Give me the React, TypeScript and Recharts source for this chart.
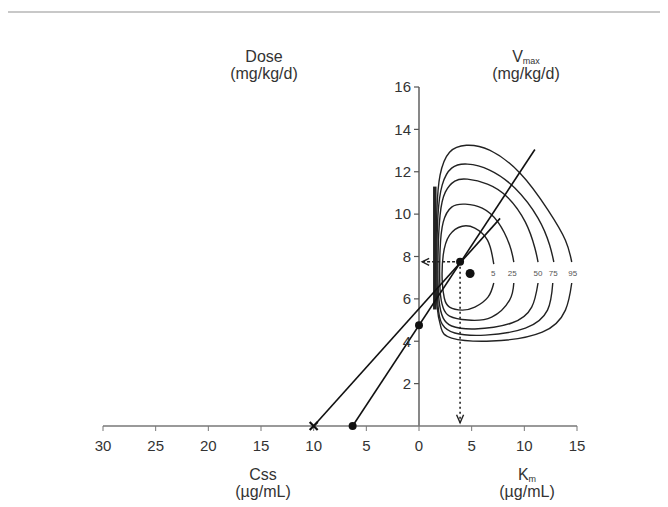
import React from "react";
import { ComposedChart, Line, XAxis, YAxis, ReferenceLine, ReferenceDot } from "recharts";

// x axis: left side is Css (drawn as negative), right side is Km
const xTicks = [-30, -25, -20, -15, -10, -5, 0, 5, 10, 15];
const yTicks = [2, 4, 6, 8, 10, 12, 14, 16];

// confidence contours in (Km, Vmax) space
const contour95 = [
  { k: 14.5, v: 6.75 }, { k: 13.9, v: 5.47 }, { k: 11.7, v: 4.43 }, { k: 6.9, v: 4.01 },
  { k: 3.1, v: 4.15 }, { k: 2.1, v: 4.62 }, { k: 1.7, v: 5.71 }, { k: 1.6, v: 7.83 },
  { k: 1.7, v: 10.2 }, { k: 2.0, v: 11.84 }, { k: 2.9, v: 12.92 }, { k: 4.5, v: 13.25 },
  { k: 6.7, v: 13.02 }, { k: 9.6, v: 11.93 }, { k: 12.25, v: 10.19 }, { k: 13.9, v: 8.77 },
  { k: 14.5, v: 7.74 },
];
const contour75 = [
  { k: 12.7, v: 6.75 }, { k: 12.2, v: 5.47 }, { k: 10.1, v: 4.62 }, { k: 6.3, v: 4.29 },
  { k: 3.4, v: 4.39 }, { k: 2.2, v: 4.81 }, { k: 1.8, v: 5.71 }, { k: 1.7, v: 7.83 },
  { k: 1.8, v: 9.95 }, { k: 2.2, v: 11.37 }, { k: 3.1, v: 12.17 }, { k: 4.6, v: 12.36 },
  { k: 6.7, v: 12.08 }, { k: 9.1, v: 11.23 }, { k: 11.3, v: 9.81 }, { k: 12.4, v: 8.54 },
  { k: 12.8, v: 7.74 },
];
const contour50 = [
  { k: 11.3, v: 6.75 }, { k: 10.7, v: 5.61 }, { k: 8.8, v: 4.86 }, { k: 5.3, v: 4.58 },
  { k: 3.1, v: 4.72 }, { k: 2.3, v: 5.09 }, { k: 1.9, v: 5.94 }, { k: 1.8, v: 7.83 },
  { k: 2.0, v: 9.95 }, { k: 2.5, v: 11.04 }, { k: 3.4, v: 11.56 }, { k: 4.6, v: 11.65 },
  { k: 6.5, v: 11.42 }, { k: 8.4, v: 10.8 }, { k: 10.1, v: 9.62 }, { k: 11.0, v: 8.4 },
  { k: 11.3, v: 7.74 },
];
const contour25 = [
  { k: 9.0, v: 6.75 }, { k: 8.6, v: 5.94 }, { k: 6.9, v: 5.14 }, { k: 4.65, v: 5.0 },
  { k: 2.9, v: 5.19 }, { k: 2.3, v: 5.57 }, { k: 2.0, v: 6.42 }, { k: 2.0, v: 8.3 },
  { k: 2.3, v: 9.62 }, { k: 3.1, v: 10.33 }, { k: 4.4, v: 10.47 }, { k: 6.0, v: 10.28 },
  { k: 7.5, v: 9.62 }, { k: 8.6, v: 8.54 }, { k: 9.0, v: 7.74 },
];
const contour5 = [
  { k: 7.1, v: 6.75 }, { k: 6.55, v: 6.08 }, { k: 5.3, v: 5.61 }, { k: 4.1, v: 5.47 },
  { k: 2.9, v: 5.61 }, { k: 2.4, v: 6.04 }, { k: 2.2, v: 6.89 }, { k: 2.3, v: 8.07 },
  { k: 2.9, v: 9.01 }, { k: 4.1, v: 9.43 }, { k: 5.3, v: 9.34 }, { k: 6.5, v: 8.77 },
  { k: 7.0, v: 7.92 }, { k: 7.1, v: 7.64 },
];
const contours = [contour95, contour75, contour50, contour25, contour5];
const contourLabels = ["95", "75", "50", "25", "5"];
const contourLabelK = [14.6, 12.75, 11.3, 8.85, 7.05];
const contourLabelV = 7.2;

// direct linear plot lines
const lineA = [{ k: -10, v: 0 }, { k: 7.7, v: 9.8 }];
const lineB = [{ k: -6.3, v: 0 }, { k: 11, v: 13.05 }];
const doseDot = { k: 0, v: 4.75 };
const intersect = { k: 3.9, v: 7.75 };
const estimate = { k: 4.85, v: 7.2 };
const dropLine = [{ k: 3.9, v: 7.75 }, { k: 3.9, v: 0.15 }];
const sideLine = [{ k: 3.9, v: 7.75 }, { k: 0.3, v: 7.75 }];

const font = "'Liberation Sans', Arial, sans-serif";
const ink = "#222";

const titleStyle: React.CSSProperties = {
  position: "absolute",
  transform: "translateX(-50%)",
  textAlign: "center",
  fontFamily: font,
  fontSize: 16,
  lineHeight: "17px",
  color: "#333",
  whiteSpace: "nowrap",
};

const subStyle: React.CSSProperties = { fontSize: 9, lineHeight: 0, verticalAlign: "-2px" };

export default function App() {
  return (
    <div style={{ position: "relative", width: 660, height: 499 }}>
      <div style={{ position: "absolute", left: -3, top: 3, width: 663, height: 0, borderTop: "2px solid #c8c8c8" }} />
      <ComposedChart width={660} height={490} margin={{ top: 79, right: 91, left: 95, bottom: 42 }}>
        <XAxis
          type="number"
          dataKey="k"
          domain={[-30, 15]}
          ticks={xTicks}
          allowDataOverflow
          height={30}
          tickFormatter={(v: number) => String(Math.abs(v))}
          axisLine={{ stroke: "#777", strokeWidth: 1.6 }}
          tickLine={{ stroke: "#777" }}
          tickSize={5}
          tickMargin={9}
          tick={{ fill: "#333", fontSize: 15, fontFamily: font }}
        />
        <YAxis type="number" domain={[0, 16]} allowDataOverflow hide />

        <ReferenceLine segment={[{ x: 0, y: 0 }, { x: 0, y: 16 }]} stroke="#555" strokeWidth={1.4} />
        {yTicks.map((t) => (
          <ReferenceDot
            key={t}
            x={0}
            y={t}
            r={2}
            shape={(p: any) => (
              <g>
                <line x1={p.cx - 5} x2={p.cx} y1={p.cy} y2={p.cy} stroke="#555" strokeWidth={1.2} />
                <text x={p.cx - 8} y={p.cy} dy="0.35em" textAnchor="end" fontSize={15} fontFamily={font} fill="#333">
                  {t}
                </text>
              </g>
            )}
          />
        ))}

        {contours.map((c, i) => (
          <Line
            key={i}
            data={c}
            dataKey="v"
            type="natural"
            stroke={ink}
            strokeWidth={1.4}
            dot={false}
            isAnimationActive={false}
          />
        ))}
        <ReferenceLine segment={[{ x: 1.5, y: 5.5 }, { x: 1.5, y: 11.3 }]} stroke={ink} strokeWidth={3.5} />
        {contourLabels.map((l, i) => (
          <ReferenceDot
            key={l}
            x={contourLabelK[i]}
            y={contourLabelV}
            r={2}
            shape={(p: any) => (
              <text x={p.cx} y={p.cy} dy="0.35em" textAnchor="middle" fontSize={8} fontFamily={font} fill="#555">
                {l}
              </text>
            )}
          />
        ))}

        <Line data={lineA} dataKey="v" type="linear" stroke="#111" strokeWidth={1.6} dot={false} isAnimationActive={false} />
        <Line data={lineB} dataKey="v" type="linear" stroke="#111" strokeWidth={1.6} dot={false} isAnimationActive={false} />
        <Line data={dropLine} dataKey="v" type="linear" stroke="#222" strokeWidth={1.6} strokeDasharray="2 3" dot={false} isAnimationActive={false} />
        <Line data={sideLine} dataKey="v" type="linear" stroke="#222" strokeWidth={1.6} strokeDasharray="3 2" dot={false} isAnimationActive={false} />

        <ReferenceDot
          x={dropLine[1].k}
          y={dropLine[1].v}
          r={2}
          shape={(p: any) => (
            <path d={`M${p.cx - 3.5},${p.cy - 8} L${p.cx},${p.cy} L${p.cx + 3.5},${p.cy - 8}`} fill="none" stroke="#222" strokeWidth={1.4} />
          )}
        />
        <ReferenceDot
          x={sideLine[1].k}
          y={sideLine[1].v}
          r={2}
          shape={(p: any) => (
            <path d={`M${p.cx + 7},${p.cy - 3.5} L${p.cx},${p.cy} L${p.cx + 7},${p.cy + 3.5}`} fill="none" stroke="#222" strokeWidth={1.4} />
          )}
        />
        <ReferenceDot
          x={lineA[0].k}
          y={lineA[0].v}
          r={2}
          shape={(p: any) => (
            <g stroke="#111" strokeWidth={2.2}>
              <line x1={p.cx - 4} y1={p.cy - 4} x2={p.cx + 4} y2={p.cy + 4} />
              <line x1={p.cx - 4} y1={p.cy + 4} x2={p.cx + 4} y2={p.cy - 4} />
            </g>
          )}
        />
        <ReferenceDot x={lineB[0].k} y={lineB[0].v} r={4} fill="#111" stroke="none" />
        <ReferenceDot x={doseDot.k} y={doseDot.v} r={4} fill="#111" stroke="none" />
        <ReferenceDot x={intersect.k} y={intersect.v} r={4} fill="#111" stroke="none" />
        <ReferenceDot x={estimate.k} y={estimate.v} r={4.5} fill="#111" stroke="none" />
      </ComposedChart>

      <div style={{ ...titleStyle, left: 256, top: 40 }}>
        Dose
        <br />
        (mg/kg/d)
      </div>
      <div style={{ ...titleStyle, left: 518, top: 40 }}>
        <span>
          V<sub style={subStyle}>max</sub>
        </span>
        <br />
        (mg/kg/d)
      </div>
      <div style={{ ...titleStyle, left: 255, top: 458 }}>
        Css
        <br />
        (µg/mL)
      </div>
      <div style={{ ...titleStyle, left: 519, top: 458 }}>
        <span>
          K<sub style={subStyle}>m</sub>
        </span>
        <br />
        (µg/mL)
      </div>
    </div>
  );
}
